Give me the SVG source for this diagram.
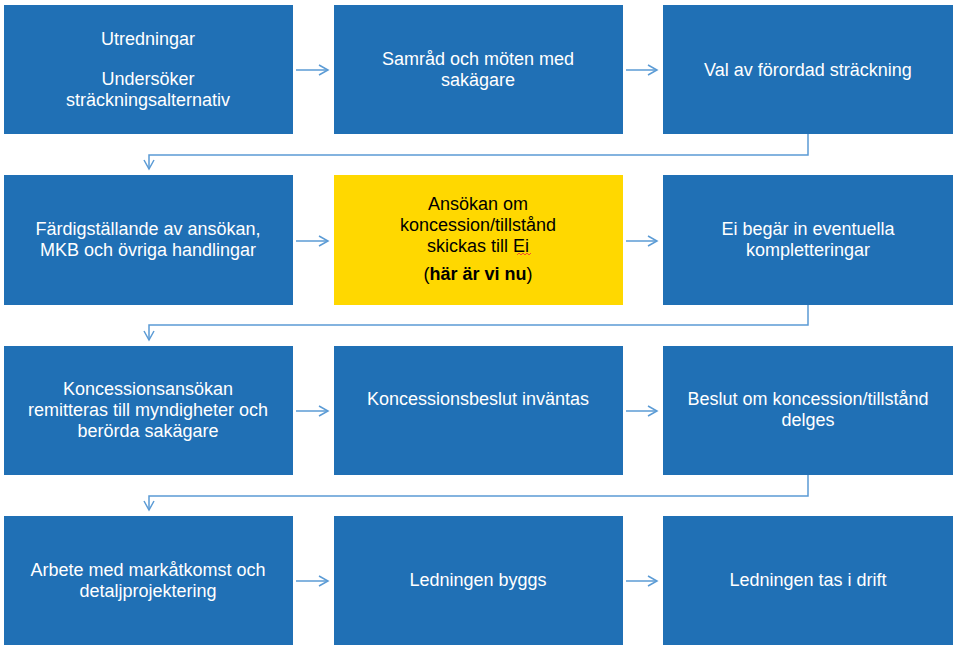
<svg xmlns="http://www.w3.org/2000/svg" width="958" height="648" viewBox="0 0 958 648">
<style>
.b{fill:#2070B5}
.y{fill:#FFD800}
text{font-family:"Liberation Sans",Arial,sans-serif;font-size:18px;text-anchor:middle}
.w{fill:#fff}
.k{fill:#000}
.c{fill:none;stroke:#5B9BD5;stroke-width:1.5}
</style>
<defs><marker id="a" markerWidth="12" markerHeight="12" refX="10" refY="6" orient="auto" markerUnits="userSpaceOnUse"><path d="M1,1 L10,6 L1,11" fill="none" stroke="#5B9BD5" stroke-width="1.5"/></marker></defs>
<rect width="958" height="648" fill="#fff"/>
<g id="n1"><rect class="b" x="4" y="5" width="289" height="129"/><text class="w" x="148" y="45">Utredningar</text><text class="w" x="148" y="85">Undersöker</text><text class="w" x="148" y="106">sträckningsalternativ</text></g>
<g id="n2"><rect class="b" x="334" y="5" width="289" height="129"/><text class="w" x="478" y="65">Samråd och möten med</text><text class="w" x="478" y="86">sakägare</text></g>
<g id="n3"><rect class="b" x="663" y="5" width="290" height="129"/><text class="w" x="808" y="76">Val av förordad sträckning</text></g>
<g id="n4"><rect class="b" x="4" y="175" width="289" height="130"/><text class="w" x="148" y="235">Färdigställande av ansökan,</text><text class="w" x="148" y="256">MKB och övriga handlingar</text></g>
<g id="n5"><rect class="y" x="334" y="175" width="289" height="130"/><text class="k" x="478" y="210">Ansökan om</text><text class="k" x="478" y="231">koncession/tillstånd</text><text class="k" x="478" y="252">skickas till Ei</text><path d="M517,255 l2,-2 2,2 2,-2 2,2 2,-2 2,2 2,-2" fill="none" stroke="#e33" stroke-width="0.8"/><text class="k" x="478" y="280">(<tspan font-weight="bold">här är vi nu</tspan>)</text></g>
<g id="n6"><rect class="b" x="663" y="175" width="290" height="130"/><text class="w" x="808" y="235">Ei begär in eventuella</text><text class="w" x="808" y="256">kompletteringar</text></g>
<g id="n7"><rect class="b" x="4" y="346" width="289" height="129"/><text class="w" x="148" y="395">Koncessionsansökan</text><text class="w" x="148" y="416">remitteras till myndigheter och</text><text class="w" x="148" y="437">berörda sakägare</text></g>
<g id="n8"><rect class="b" x="334" y="346" width="289" height="129"/><text class="w" x="478" y="405">Koncessionsbeslut inväntas</text></g>
<g id="n9"><rect class="b" x="663" y="346" width="290" height="129"/><text class="w" x="808" y="405">Beslut om koncession/tillstånd</text><text class="w" x="808" y="426">delges</text></g>
<g id="n10"><rect class="b" x="4" y="516" width="289" height="129"/><text class="w" x="148" y="576">Arbete med markåtkomst och</text><text class="w" x="148" y="597">detaljprojektering</text></g>
<g id="n11"><rect class="b" x="334" y="516" width="289" height="129"/><text class="w" x="478" y="586">Ledningen byggs</text></g>
<g id="n12"><rect class="b" x="663" y="516" width="290" height="129"/><text class="w" x="808" y="586">Ledningen tas i drift</text></g>
<g id="connectors">
<path class="c" marker-end="url(#a)" d="M296,70 H328"/>
<path class="c" marker-end="url(#a)" d="M626,70 H657"/>
<path class="c" marker-end="url(#a)" d="M296,241 H328"/>
<path class="c" marker-end="url(#a)" d="M626,241 H657"/>
<path class="c" marker-end="url(#a)" d="M296,411 H328"/>
<path class="c" marker-end="url(#a)" d="M626,411 H657"/>
<path class="c" marker-end="url(#a)" d="M296,581 H328"/>
<path class="c" marker-end="url(#a)" d="M626,581 H657"/>
<path class="c" marker-end="url(#a)" d="M808,134 V155 H149 V169"/>
<path class="c" marker-end="url(#a)" d="M808,305 V325 H149 V340"/>
<path class="c" marker-end="url(#a)" d="M808,475 V496 H149 V510"/>
</g>
</svg>
